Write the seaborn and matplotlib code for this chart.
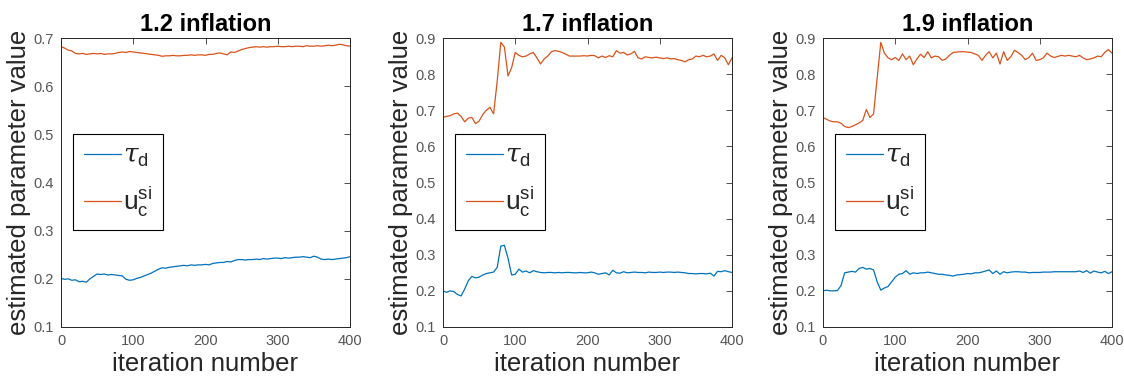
import numpy as np
import pandas as pd
import matplotlib
matplotlib.use("Agg")
import matplotlib.pyplot as plt
import seaborn as sns

# ---------------- data ----------------
titles = ["1.2 inflation", "1.7 inflation", "1.9 inflation"]
iterations = list(range(0, 401, 5))

tau_12 = [0.201, 0.199, 0.200, 0.197, 0.198, 0.194, 0.195, 0.193, 0.200, 0.205,
          0.210, 0.209, 0.210, 0.208, 0.209, 0.208, 0.207, 0.206, 0.199, 0.197,
          0.198, 0.201, 0.203, 0.206, 0.209, 0.212, 0.216, 0.220, 0.223, 0.222,
          0.224, 0.225, 0.226, 0.227, 0.228, 0.227, 0.229, 0.228, 0.229, 0.229,
          0.230, 0.229, 0.232, 0.233, 0.234, 0.234, 0.236, 0.235, 0.238, 0.240,
          0.240, 0.239, 0.240, 0.240, 0.241, 0.240, 0.242, 0.241, 0.242, 0.243,
          0.243, 0.242, 0.244, 0.243, 0.244, 0.245, 0.245, 0.246, 0.245, 0.244,
          0.247, 0.245, 0.241, 0.240, 0.241, 0.240, 0.241, 0.242, 0.243, 0.244,
          0.246]
u_12 = [0.682, 0.679, 0.675, 0.673, 0.668, 0.667, 0.668, 0.666, 0.667, 0.668,
        0.667, 0.668, 0.666, 0.667, 0.667, 0.668, 0.670, 0.671, 0.670, 0.672,
        0.671, 0.670, 0.669, 0.668, 0.667, 0.666, 0.665, 0.664, 0.662, 0.663,
        0.663, 0.664, 0.663, 0.663, 0.664, 0.664, 0.665, 0.664, 0.665, 0.665,
        0.664, 0.666, 0.666, 0.668, 0.669, 0.667, 0.665, 0.671, 0.670, 0.673,
        0.676, 0.678, 0.680, 0.681, 0.682, 0.681, 0.682, 0.681, 0.682, 0.682,
        0.683, 0.682, 0.682, 0.683, 0.682, 0.683, 0.683, 0.682, 0.684, 0.683,
        0.683, 0.684, 0.683, 0.684, 0.685, 0.684, 0.685, 0.687, 0.686, 0.684,
        0.683]

tau_17 = [0.200, 0.196, 0.200, 0.198, 0.190, 0.186, 0.205, 0.228, 0.240, 0.236,
          0.238, 0.244, 0.248, 0.250, 0.252, 0.265, 0.324, 0.326, 0.290, 0.244,
          0.246, 0.260, 0.252, 0.255, 0.250, 0.256, 0.253, 0.251, 0.250, 0.251,
          0.251, 0.250, 0.251, 0.250, 0.251, 0.251, 0.250, 0.250, 0.251, 0.250,
          0.250, 0.252, 0.250, 0.246, 0.248, 0.250, 0.244, 0.257, 0.250, 0.249,
          0.253, 0.250, 0.251, 0.252, 0.251, 0.251, 0.250, 0.252, 0.251, 0.251,
          0.252, 0.251, 0.252, 0.252, 0.251, 0.252, 0.251, 0.250, 0.248, 0.248,
          0.247, 0.248, 0.248, 0.247, 0.249, 0.241, 0.254, 0.253, 0.256, 0.253,
          0.251]
u_17 = [0.680, 0.683, 0.685, 0.690, 0.692, 0.683, 0.668, 0.678, 0.680, 0.663,
        0.670, 0.688, 0.700, 0.708, 0.690, 0.780, 0.888, 0.875, 0.795, 0.818,
        0.860, 0.852, 0.848, 0.850, 0.856, 0.860, 0.845, 0.828, 0.842, 0.850,
        0.862, 0.865, 0.863, 0.860, 0.855, 0.850, 0.850, 0.850, 0.850, 0.851,
        0.850, 0.852, 0.851, 0.845, 0.850, 0.846, 0.851, 0.848, 0.865, 0.858,
        0.860, 0.853, 0.856, 0.863, 0.845, 0.842, 0.848, 0.846, 0.845, 0.847,
        0.845, 0.843, 0.845, 0.842, 0.843, 0.840, 0.838, 0.834, 0.840, 0.842,
        0.850, 0.848, 0.852, 0.848, 0.850, 0.856, 0.838, 0.852, 0.845, 0.826,
        0.845]

tau_19 = [0.200, 0.202, 0.200, 0.200, 0.201, 0.215, 0.250, 0.252, 0.254, 0.252,
          0.262, 0.265, 0.260, 0.262, 0.258, 0.225, 0.202, 0.208, 0.212, 0.225,
          0.238, 0.246, 0.248, 0.256, 0.246, 0.250, 0.248, 0.250, 0.250, 0.252,
          0.250, 0.248, 0.246, 0.246, 0.244, 0.243, 0.241, 0.244, 0.245, 0.246,
          0.248, 0.247, 0.250, 0.250, 0.252, 0.255, 0.258, 0.248, 0.255, 0.246,
          0.253, 0.250, 0.252, 0.253, 0.253, 0.252, 0.252, 0.250, 0.251, 0.251,
          0.251, 0.252, 0.252, 0.252, 0.253, 0.253, 0.253, 0.253, 0.253, 0.253,
          0.253, 0.255, 0.251, 0.256, 0.249, 0.255, 0.252, 0.250, 0.254, 0.248,
          0.253]
u_19 = [0.680, 0.675, 0.670, 0.668, 0.668, 0.664, 0.655, 0.652, 0.655, 0.660,
        0.665, 0.672, 0.702, 0.680, 0.690, 0.790, 0.888, 0.858, 0.845, 0.840,
        0.846, 0.838, 0.856, 0.840, 0.850, 0.826, 0.842, 0.855, 0.846, 0.862,
        0.845, 0.850, 0.848, 0.838, 0.842, 0.852, 0.860, 0.861, 0.862, 0.862,
        0.861, 0.860, 0.856, 0.852, 0.838, 0.852, 0.862, 0.845, 0.858, 0.828,
        0.862, 0.838, 0.848, 0.866, 0.860, 0.852, 0.840, 0.846, 0.858, 0.838,
        0.840, 0.845, 0.858, 0.850, 0.846, 0.849, 0.852, 0.850, 0.852, 0.850,
        0.848, 0.852, 0.845, 0.840, 0.842, 0.845, 0.850, 0.848, 0.860, 0.868,
        0.858]

tau_series = [tau_12, tau_17, tau_19]
u_series = [u_12, u_17, u_19]
y_limits = [(0.1, 0.7), (0.1, 0.9), (0.1, 0.9)]
x_ticks = [0, 100, 200, 300, 400]
series_labels = [r"$\tau_{\mathrm{d}}$", r"$\mathrm{u}_{\mathrm{c}}^{\mathrm{si}}$"]

# ---------------- style ----------------
sns.set_theme(style="white")
plt.rcParams["font.family"] = ["Liberation Sans", "DejaVu Sans"]
plt.rcParams["mathtext.fontset"] = "custom"
plt.rcParams["mathtext.rm"] = "Liberation Sans"
plt.rcParams["mathtext.it"] = "DejaVu Serif:italic"

colors = {"tau": "#0072BD", "u": "#D95319"}
tick_color = "#555555"

fig = plt.figure(figsize=(11.24, 3.81), dpi=100)
lefts = [61, 443, 823]
ax_w = 289
ax_top, ax_bot = 38, 327
W, H = 1124, 381

for i in range(3):
    ax = fig.add_axes([lefts[i] / W, 1 - ax_bot / H, ax_w / W, (ax_bot - ax_top) / H])
    df = pd.DataFrame({
        "iteration": iterations * 2,
        "value": tau_series[i] + u_series[i],
        "param": ["tau"] * len(iterations) + ["u"] * len(iterations),
    })
    sns.lineplot(data=df, x="iteration", y="value", hue="param", palette=colors,
                 linewidth=0.9, ax=ax, legend=False)
    ax.set_xlim(0, 400)
    ax.set_ylim(*y_limits[i])
    ax.set_xticks(x_ticks)
    lo, hi = y_limits[i]
    yt = np.round(np.arange(lo, hi + 0.001, 0.1), 1)
    ax.set_yticks(yt)
    ax.set_yticklabels([f"{v:.1f}" for v in yt])
    ax.tick_params(direction="in", length=4, width=0.6, top=True, right=True,
                   labelsize=10.5, colors=tick_color, pad=5)
    ax.tick_params(axis="both", which="both", color="#333333")
    for sp in ax.spines.values():
        sp.set_visible(True)
        sp.set_color("#262626")
        sp.set_linewidth(0.7)
    ax.set_xlabel("iteration number", fontsize=18.5, color="#262626", labelpad=3)
    ax.set_ylabel("estimated parameter value", fontsize=18.5, color="#262626", labelpad=2)
    ax.set_title(titles[i], fontsize=17, fontweight="bold", color="black", pad=5)

    handles = ax.get_lines()[:2]
    leg = ax.legend(handles, series_labels, loc="lower left",
                    bbox_to_anchor=(0.042, 0.336), fontsize=19, frameon=True,
                    fancybox=False, framealpha=1, edgecolor="black",
                    handlelength=1.4, handletextpad=0.1, borderpad=0.4,
                    labelspacing=0.6, borderaxespad=0)
    leg.get_frame().set_linewidth(0.8)

fig.savefig("out.png", dpi=100)
